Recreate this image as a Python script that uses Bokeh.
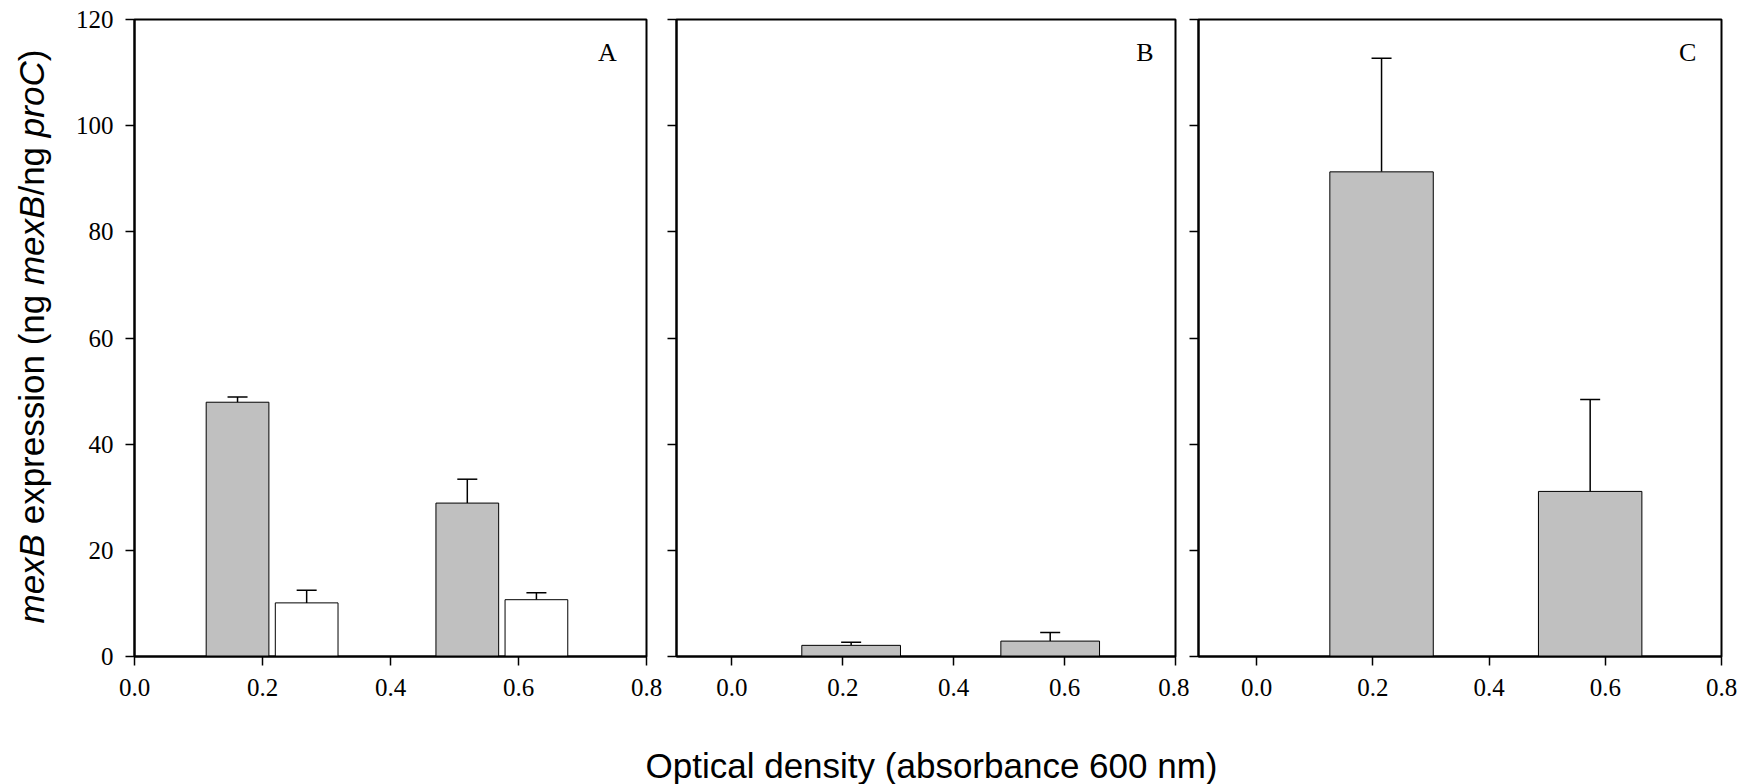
import math
from bokeh.plotting import figure
from bokeh.layouts import row, column
from bokeh.models import (Range1d, FixedTicker, PrintfTickFormatter, Whisker, TeeHead,
                          ColumnDataSource, Label, CustomLabelingPolicy)
from bokeh.embed import file_html
from bokeh.resources import INLINE

# ---------------- data ----------------
od_groups = [0.215, 0.574]          # optical density of the two sampling points
x_ticks = [0.0, 0.2, 0.4, 0.6, 0.8]
y_ticks = [0, 20, 40, 60, 80, 100, 120]

a_grey = [47.9, 28.9]
a_grey_err = [1.0, 4.5]
a_white = [10.1, 10.7]
a_white_err = [2.4, 1.3]

b_grey = [2.1, 2.9]
b_grey_err = [0.6, 1.6]

c_grey = [91.3, 31.1]
c_grey_err = [21.4, 17.3]

panel_letters = ["A", "B", "C"]
x_title = "Optical density (absorbance 600 nm)"
y_title_parts = ["mexB", "expression (ng", "mexB", "/ng", "proC", ")"]
y_title_styles = ["italic", "normal", "italic", "normal", "italic", "normal"]

# ---------------- style ----------------
GREY = "#C0C0C0"
SERIF = "Liberation Serif"
SANS = "Liberation Sans"
FRAME_H = 637
TOP = 19
BOTTOM = 79
Y_MAX = 120
ROW_H = TOP + FRAME_H + BOTTOM      # 735
XT_H = 784 - ROW_H                  # 49
FS = 35


def make_fig(xmin, frame_w, left, right, show_ylabels):
    p = figure(frame_width=frame_w, frame_height=FRAME_H,
               min_border_left=left, min_border_right=right,
               min_border_top=TOP, min_border_bottom=BOTTOM,
               x_range=Range1d(xmin, 0.8), y_range=Range1d(0, Y_MAX),
               toolbar_location=None, output_backend="svg")
    p.xgrid.visible = False
    p.ygrid.visible = False
    p.outline_line_color = "black"
    p.outline_line_width = 2
    p.outline_line_alpha = 1
    p.background_fill_color = "white"
    p.border_fill_color = "white"
    for ax in (p.xaxis[0], p.yaxis[0]):
        ax.axis_line_width = 2
        ax.axis_line_color = "black"
        ax.major_tick_in = 0
        ax.major_tick_out = 9
        ax.major_tick_line_width = 1.5
        ax.major_tick_line_color = "black"
        ax.minor_tick_in = 0
        ax.minor_tick_out = 0
        ax.major_label_text_font = SERIF
        ax.major_label_text_font_size = "25px"
        ax.major_label_text_color = "black"
    p.xaxis.ticker = FixedTicker(ticks=x_ticks)
    p.xaxis.formatter = PrintfTickFormatter(format="%.1f")
    p.xaxis.major_label_standoff = 13
    p.yaxis.ticker = FixedTicker(ticks=y_ticks)
    if show_ylabels:
        p.yaxis.major_label_standoff = 12
    else:
        p.yaxis.major_label_policy = CustomLabelingPolicy(
            code="for (const i of indices) { indices.unset(i) }\nreturn indices")
        p.yaxis.major_label_text_font_size = "0px"
        p.yaxis.major_label_standoff = 0
    return p


def add_bars(p, xs, vals, errs, width, color):
    src = ColumnDataSource(dict(x=xs, top=vals, upper=[v + e for v, e in zip(vals, errs)]))
    p.add_layout(Whisker(source=src, base="x", lower="top", upper="upper", dimension="height",
                         lower_head=None,
                         upper_head=TeeHead(size=20, line_width=1.5, line_color="black"),
                         line_width=1.5, line_color="black"))
    p.vbar(x="x", top="top", bottom=0, width=width, source=src,
           fill_color=color, line_color="black", line_width=1)


def add_letter(p, letter, x):
    p.add_layout(Label(x=x, y=113.7, text=letter, text_font=SERIF, text_font_size="26px",
                       text_align="center", text_baseline="middle", text_color="black"))


def blank_fig(w, h, y0, y1, x0, x1):
    f = figure(frame_width=w, frame_height=h,
               min_border_left=0, min_border_right=0, min_border_top=0, min_border_bottom=0,
               x_range=Range1d(x0, x1), y_range=Range1d(y0, y1),
               toolbar_location=None, output_backend="svg")
    f.axis.visible = False
    f.grid.visible = False
    f.outline_line_color = None
    f.background_fill_color = "white"
    f.border_fill_color = "white"
    return f


# Title strip for the rotated y-axis title (screen-pixel coordinates, y downwards)
pT = blank_fig(72, ROW_H, ROW_H, 0, 0, 72)
seg_start_em = [0.0, 2.834, 9.670, 12.226, 13.894, 16.061]   # Arial advance widths
start = 604.0
for txt, style, em in zip(y_title_parts, y_title_styles, seg_start_em):
    pT.add_layout(Label(x=31, y=start - em * FS, text=txt, angle=math.pi / 2, angle_units="rad",
                        text_font=SANS, text_font_size=f"{FS}px", text_font_style=style,
                        text_align="left", text_baseline="alphabetic", text_color="black"))

# Panel A
pA = make_fig(0.0, 512, 60, 18, True)
dodge = 0.054
add_bars(pA, [g - dodge for g in od_groups], a_grey, a_grey_err, 0.098, GREY)
add_bars(pA, [g + dodge for g in od_groups], a_white, a_white_err, 0.098, "white")
add_letter(pA, panel_letters[0], 0.739)

# Panel B
pB = make_fig(-0.1, 499, 12, 14, False)
add_bars(pB, od_groups, b_grey, b_grey_err, 0.178, GREY)
add_letter(pB, panel_letters[1], 0.745)

# Panel C
pC = make_fig(-0.1, 523, 9, 33, False)
add_bars(pC, od_groups, c_grey, c_grey_err, 0.178, GREY)
add_letter(pC, panel_letters[2], 0.742)

# Strip for the shared x-axis title
pX = blank_fig(1752, XT_H, 784, ROW_H, 0, 1752)
pX.add_layout(Label(x=931, y=765, text=x_title, text_font=SANS, text_font_size=f"{FS}px",
                    text_align="center", text_baseline="alphabetic", text_color="black"))

layout = column(row(pT, pA, pB, pC), pX)
open("out.html", "w").write(file_html(layout, INLINE))
